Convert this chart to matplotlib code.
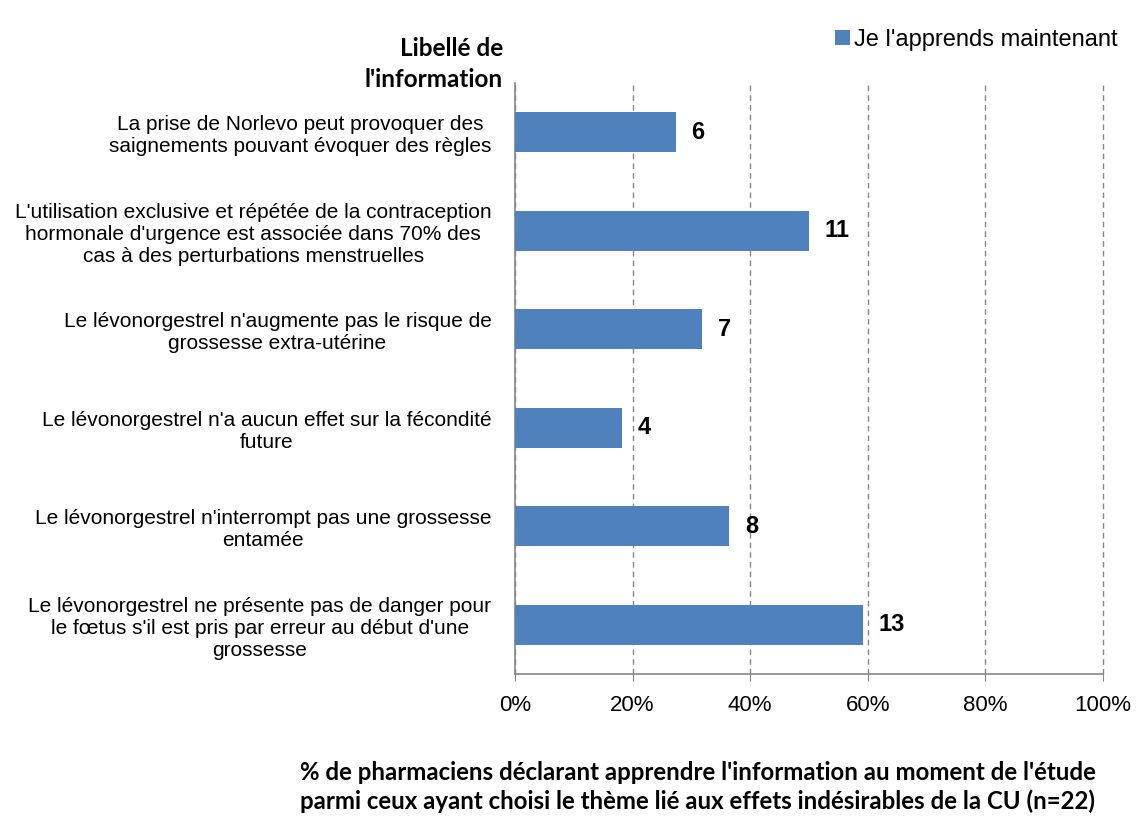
import matplotlib.pyplot as plt

# Labels of the information, top to bottom
labels = [
    "La prise de Norlevo peut provoquer des\nsaignements pouvant évoquer des règles",
    "L'utilisation exclusive et répétée de la contraception\nhormonale d'urgence est associée dans 70% des\ncas à des perturbations menstruelles",
    "Le lévonorgestrel n'augmente pas le risque de\ngrossesse extra-utérine",
    "Le lévonorgestrel n'a aucun effet sur la fécondité\nfuture",
    "Le lévonorgestrel n'interrompt pas une grossesse\nentamée",
    "Le lévonorgestrel ne présente pas de danger pour\nle fœtus s'il est pris par erreur au début d'une\ngrossesse",
]
# number of pharmacists (data labels) and share in %
counts = [6, 11, 7, 4, 8, 13]
percents = [27.3, 50.0, 31.8, 18.2, 36.4, 59.1]
xticks = [0, 20, 40, 60, 80, 100]

plt.rcParams['font.family'] = ['Liberation Sans', 'DejaVu Sans']
bold_font = ["Lato", "DejaVu Sans"]

fig = plt.figure(figsize=(11.4, 8.19), dpi=100)
ax = fig.add_axes([515 / 1140, 1 - 674 / 819, 588 / 1140, 591 / 819])

ypos = list(range(len(labels)))[::-1]
bars = ax.barh(ypos, percents, height=0.41, color="#4F81BD", zorder=3,
               label="Je l'apprends maintenant")

for y, p, c in zip(ypos, percents, counts):
    ax.text(p + 2.7, y, str(c), va="center", ha="left", fontsize=17,
            fontweight="bold", color="black")

ax.set_xlim(0, 100)
ax.set_ylim(-0.5, len(labels) - 0.5)
ax.set_xticks(xticks)
ax.set_xticklabels([f"{t}%" for t in xticks], fontsize=16)
ax.set_yticks(ypos)
ax.set_yticklabels(labels, fontsize=15, multialignment="center")
ax.tick_params(axis="y", length=0, pad=17)
ax.tick_params(axis="x", length=5, color="#868686", pad=10)

ax.grid(axis="x", linestyle=(0, (4, 3)), color="#868686", linewidth=1, zorder=0)
for gl in ax.get_xgridlines():
    gl.set_clip_on(False)
for s in ["top", "right"]:
    ax.spines[s].set_visible(False)
for s in ["left", "bottom"]:
    ax.spines[s].set_color("#868686")
    ax.spines[s].set_linewidth(1.2)

fig.text(503 / 1140, 1 - 64 / 819, "Libellé de\nl'information", ha="right",
         va="center", fontsize=17.5, fontweight="bold", family=bold_font,
         multialignment="right", linespacing=1.45)

leg = fig.legend(handles=[bars], loc="center left", bbox_to_anchor=(826 / 1140, 1 - 40 / 819),
                 frameon=False, fontsize=17, handlelength=0.6, handleheight=0.6,
                 handletextpad=0.2, borderaxespad=0)

fig.text(300 / 1140, 1 - 787 / 819,
         "% de pharmaciens déclarant apprendre l'information au moment de l'étude\n"
         "parmi ceux ayant choisi le thème lié aux effets indésirables de la CU (n=22)",
         ha="left", va="center", fontsize=17.3, fontweight="bold",
         family=bold_font, multialignment="center", linespacing=1.3)

fig.savefig("out.png", dpi=100)
